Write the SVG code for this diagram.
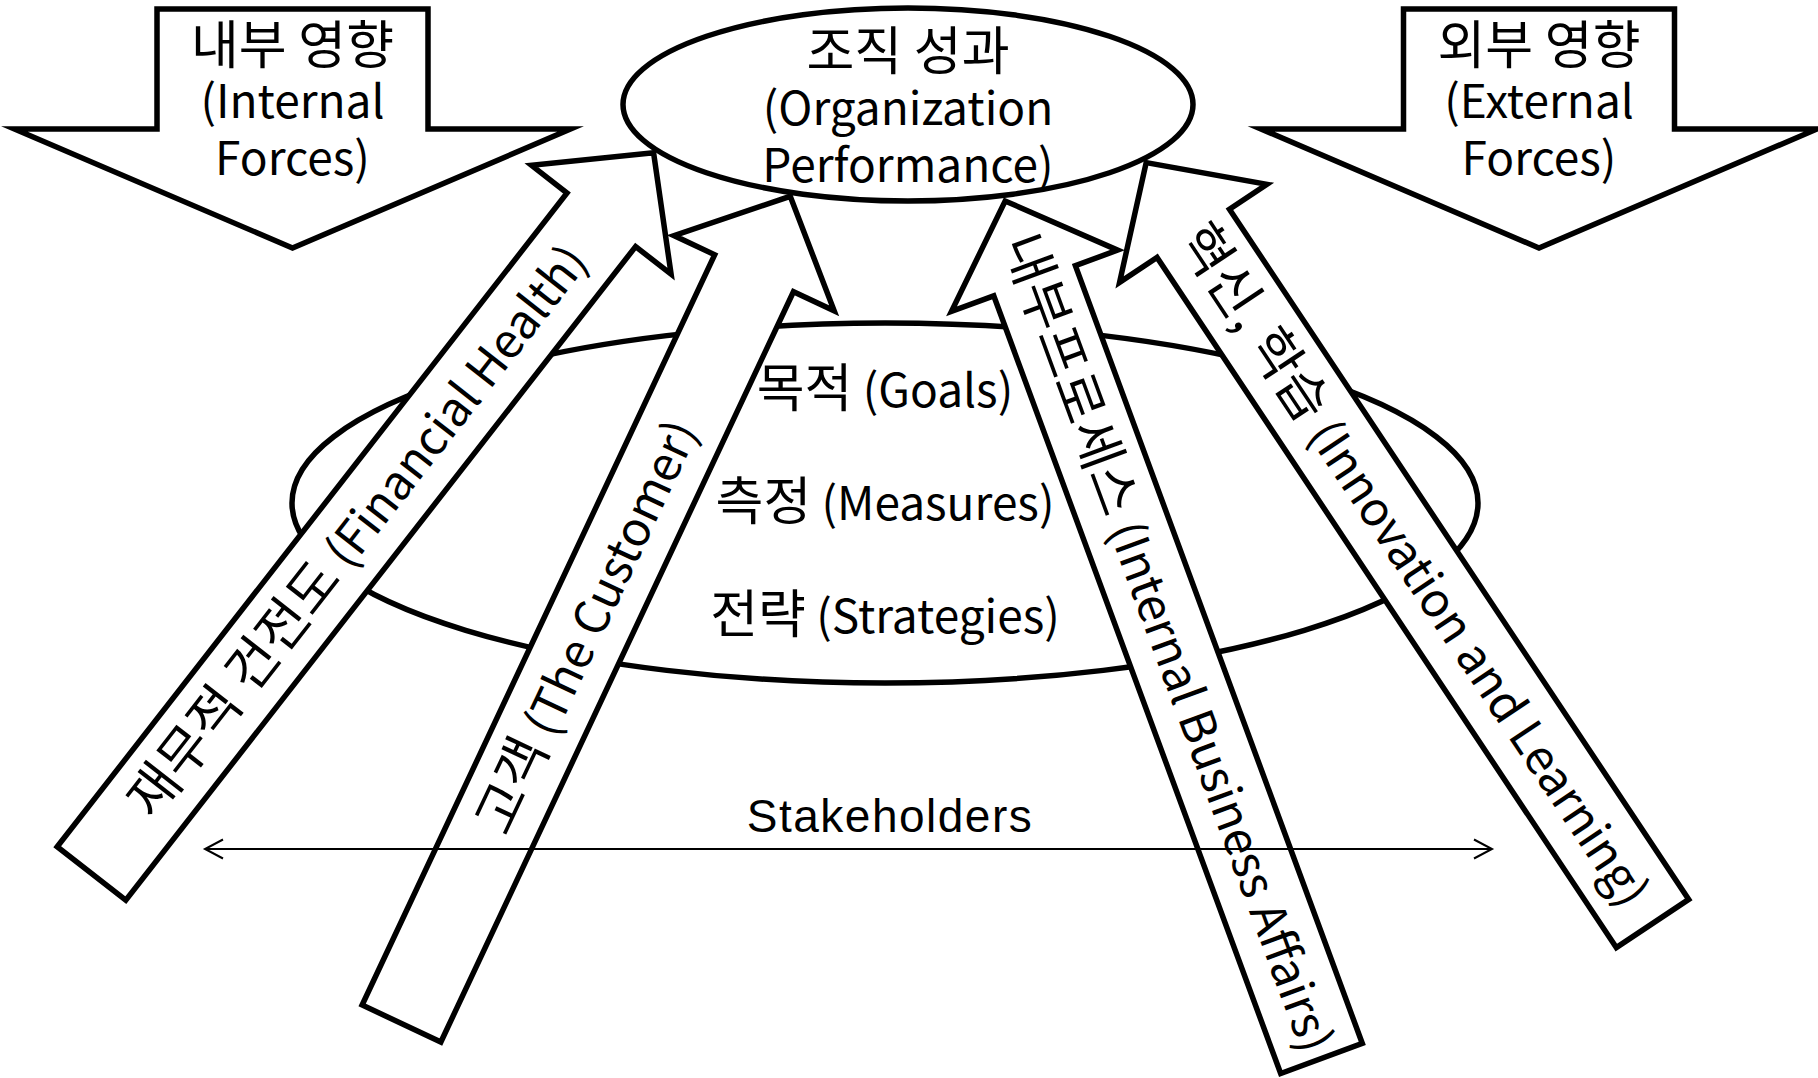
<svg xmlns="http://www.w3.org/2000/svg" width="1818" height="1078" viewBox="0 0 1818 1078">
  <style>
    .shape { fill: #fff; stroke: #000; stroke-width: 5.5; stroke-linejoin: miter; stroke-miterlimit: 10; }
    .lbl { font-family: "Noto Sans CJK KR", "Noto Sans", sans-serif; font-size: 46px; fill: #000; text-anchor: middle; }
    .ko { font-size: 52px; }
    .along { font-size: 47.5px; }
    .along .ko { font-size: 53.5px; }
    .axis { stroke: #000; stroke-width: 2; fill: none; }
    .axis-lbl { font-family: "Liberation Sans", Arial, sans-serif; font-size: 46px; letter-spacing: 1.5px; fill: #000; text-anchor: middle; }
  </style>
  <defs>
    <!-- downward block arrow, origin at top centre of its stem -->
    <path id="force-arrow" d="M-135.5,0 H135.5 V120 H278 L0,239 L-278,120 H-135.5 Z"/>
    <!-- perspective arrow, origin at centre of the tail, pointing along +x -->
    <path id="perspective-arrow" d="M0,-43.5 H829 V-88.5 L914,0 L829,88.5 V43.5 H0 Z"/>
    <marker id="chevron" markerUnits="userSpaceOnUse" markerWidth="24" markerHeight="24" viewBox="0 0 24 24" refX="21" refY="12" orient="auto-start-reverse">
      <path d="M3,2.5 L21,12 L3,21.5" fill="none" stroke="#000" stroke-width="2"/>
    </marker>
  </defs>

  <rect width="1818" height="1078" fill="#fff"/>

  <!-- base ring: goals, measures, strategies -->
  <g id="base">
    <ellipse class="shape" cx="885" cy="503" rx="593" ry="180"/>
    <text class="lbl" x="885" y="407"><tspan class="ko">목적</tspan> (Goals)</text>
    <text class="lbl" x="885" y="520"><tspan class="ko">측정</tspan> (Measures)</text>
    <text class="lbl" x="885" y="633"><tspan class="ko">전략</tspan> (Strategies)</text>
  </g>

  <!-- organisation performance -->
  <g id="performance">
    <ellipse class="shape" cx="908" cy="104.5" rx="285" ry="96.5" stroke-width="6"/>
    <text class="lbl ko" x="908" y="70">조직 성과</text>
    <text class="lbl" x="908" y="125">(Organization</text>
    <text class="lbl" x="908" y="182">Performance)</text>
  </g>

  <!-- internal forces -->
  <g id="internal-forces" transform="translate(292.5,9)">
    <use href="#force-arrow" class="shape"/>
    <text class="lbl ko" x="0" y="55">내부 영향</text>
    <text class="lbl" x="0" y="109">(Internal</text>
    <text class="lbl" x="0" y="166">Forces)</text>
  </g>

  <!-- external forces -->
  <g id="external-forces" transform="translate(1539,9)">
    <use href="#force-arrow" class="shape"/>
    <text class="lbl ko" x="0" y="55">외부 영향</text>
    <text class="lbl" x="0" y="109">(External</text>
    <text class="lbl" x="0" y="166">Forces)</text>
  </g>

  <!-- financial health -->
  <g id="financial" transform="translate(91.5,873.5) rotate(-52.05)">
    <use href="#perspective-arrow" class="shape"/>
    <text class="lbl along" x="434" y="17"><tspan class="ko">재무적 건전도</tspan> (Financial Health)</text>
  </g>

  <!-- customer -->
  <g id="customer" transform="translate(401.5,1023.5) rotate(-64.83)">
    <use href="#perspective-arrow" class="shape"/>
    <text class="lbl along" x="438" y="17"><tspan class="ko">고객</tspan> (The Customer)</text>
  </g>

  <!-- internal business affairs -->
  <g id="internal-business" transform="translate(1321.5,1058.5) rotate(-110.25)">
    <use href="#perspective-arrow" class="shape"/>
    <text class="lbl along" x="443" y="17" transform="rotate(180 443 0)"><tspan class="ko">내부프로세스</tspan> (Internal Business Affairs)</text>
  </g>

  <!-- innovation and learning -->
  <g id="innovation" transform="translate(1652.5,923.5) rotate(-123.64)">
    <use href="#perspective-arrow" class="shape"/>
    <text class="lbl along" x="430" y="17" transform="rotate(180 430 0)"><tspan class="ko">혁신, 학습</tspan> (Innovation and Learning)</text>
  </g>

  <!-- connectors -->
  <g id="connectors">
    <line class="axis" x1="205" y1="849" x2="1492" y2="849" marker-start="url(#chevron)" marker-end="url(#chevron)"/>
    <text class="axis-lbl" x="890" y="832">Stakeholders</text>
  </g>
</svg>
